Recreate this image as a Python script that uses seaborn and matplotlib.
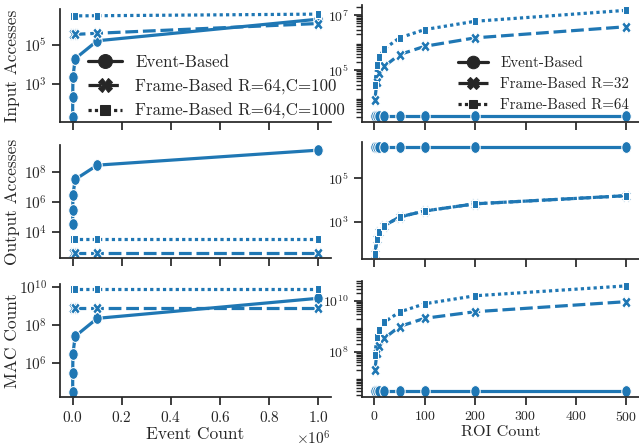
import numpy as np
import pandas as pd
import matplotlib
matplotlib.use("Agg")
import matplotlib.pyplot as plt
from matplotlib.ticker import FixedLocator
from matplotlib.markers import MarkerStyle
from matplotlib.path import Path
from matplotlib.transforms import Affine2D
import seaborn as sns

# ---------------- data ----------------
events = [10, 100, 1000, 10000, 100000, 1000000]
left_labels = ["Event-Based", "Frame-Based R=64,C=100", "Frame-Based R=64,C=1000"]

input_event = [22, 210, 2200, 20000, 165000, 2100000]
input_fb100 = [3.5e5, 3.5e5, 3.5e5, 3.5e5, 4.0e5, 1.26e6]
input_fb1000 = [3.1e6, 3.1e6, 3.1e6, 3.1e6, 3.15e6, 3.8e6]

output_event = [3.1e4, 2.7e5, 2.8e6, 3.1e7, 2.8e8, 2.8e9]
output_fb100 = [380, 380, 380, 380, 380, 380]
output_fb1000 = [3500, 3500, 3500, 3500, 3500, 3500]

mac_event = [2.9e4, 2.9e5, 2.9e6, 2.5e7, 2.2e8, 2.5e9]
mac_fb100 = [8.0e8, 8.0e8, 8.0e8, 8.0e8, 8.0e8, 8.0e8]
mac_fb1000 = [7.8e9, 7.8e9, 7.8e9, 7.8e9, 7.8e9, 7.8e9]

rois = [1, 5, 10, 20, 50, 100, 200, 500]
right_labels = ["Event-Based", "Frame-Based R=32", "Frame-Based R=64"]

input_event_r = [2100, 2100, 2100, 2100, 2100, 2100, 2100, 2100]
input_r32 = [8.5e3, 3.8e4, 7.6e4, 1.4e5, 3.7e5, 7.4e5, 1.5e6, 3.8e6]
input_r64 = [3.0e4, 1.5e5, 3.1e5, 6.0e5, 1.5e6, 3.0e6, 6.0e6, 1.5e7]

output_event_r = [2.7e6, 2.7e6, 2.7e6, 2.7e6, 2.7e6, 2.7e6, 2.7e6, 2.7e6]
output_r32 = [34, 170, 330, 680, 1700, 3200, 6800, 1.6e4]
output_r64 = [34, 170, 330, 680, 1700, 3200, 6800, 1.6e4]

mac_event_r = [2.9e6, 2.9e6, 2.9e6, 2.9e6, 2.9e6, 2.9e6, 2.9e6, 2.9e6]
mac_r32 = [1.9e7, 9.5e7, 1.7e8, 3.5e8, 1.0e9, 2.1e9, 3.8e9, 9.4e9]
mac_r64 = [7.8e7, 3.8e8, 7.5e8, 1.5e9, 3.7e9, 7.8e9, 1.6e10, 3.9e10]

row_labels = ["Input Accesses", "Output Accesses", "MAC Count"]
left_xticks = [0, 200000, 400000, 600000, 800000, 1000000]
right_xticks = [0, 100, 200, 300, 400, 500]
left_yticks = [[1e3, 1e5], [1e4, 1e6, 1e8], [1e6, 1e8, 1e10]]
right_yticks = [[1e5, 1e7], [1e3, 1e5], [1e8, 1e10]]

# ---------------- style ----------------
sns.set_theme(style="ticks")
plt.rcParams["font.family"] = ["cmr10", "DejaVu Serif"]
plt.rcParams["mathtext.fontset"] = "cm"
plt.rcParams["axes.formatter.use_mathtext"] = True
plt.rcParams["axes.unicode_minus"] = False

BLUE = "#1f77b4"
W, H = 639, 447
fig = plt.figure(figsize=(W / 100, H / 100), dpi=100)


def squeezed(marker, sx=0.8):
    ms = MarkerStyle(marker)
    p = ms.get_path().transformed(ms.get_transform())
    p = p.transformed(Affine2D().scale(sx, 1.0))
    # invisible trailing moveto keeps the marker's native scale
    verts = np.vstack([p.vertices, [[0.0, 0.5]]])
    codes = p.codes
    if codes is None:
        codes = np.full(len(p.vertices), Path.LINETO, dtype=np.uint8)
        codes[0] = Path.MOVETO
    codes = np.concatenate([codes, [Path.MOVETO]])
    return Path(verts, codes)


plot_markers = [squeezed("o"), squeezed("X"), squeezed((4, 0, 45))]
legend_markers = ["o", "X", (4, 0, 45)]


def rect(x0, x1, y0, y1):
    return [x0 / W, 1 - y1 / H, (x1 - x0) / W, (y1 - y0) / H]


left_rows = [(9, 121.7), (145, 258.3), (283.7, 397.3)]
right_rows = [(5, 121.7), (141.7, 259.4), (280.6, 396.6)]


def long_df(x, series, labels):
    frames = []
    for vals, lab in zip(series, labels):
        frames.append(pd.DataFrame({"x": x, "y": vals, "method": lab}))
    return pd.concat(frames, ignore_index=True)


left_data = [
    long_df(events, [input_event, input_fb100, input_fb1000], left_labels),
    long_df(events, [output_event, output_fb100, output_fb1000], left_labels),
    long_df(events, [mac_event, mac_fb100, mac_fb1000], left_labels),
]
right_data = [
    long_df(rois, [input_event_r, input_r32, input_r64], right_labels),
    long_df(rois, [output_event_r, output_r32, output_r64], right_labels),
    long_df(rois, [mac_event_r, mac_r32, mac_r64], right_labels),
]

L_LAB, R_LAB = 12.5, 11.7
L_TICK, R_TICK = 11.0, 10.0
L_LEG, R_LEG = 12.2, 10.8

left_axes, right_axes = [], []
for i in range(3):
    axl = fig.add_axes(rect(60.4, 330.7, *left_rows[i]),
                       sharex=left_axes[0] if left_axes else None)
    axr = fig.add_axes(rect(362.3, 639, *right_rows[i]),
                       sharex=right_axes[0] if right_axes else None)
    left_axes.append(axl)
    right_axes.append(axr)

for i in range(3):
    for ax, df, labels, fs, yt in ((left_axes[i], left_data[i], left_labels, L_TICK, left_yticks[i]),
                                   (right_axes[i], right_data[i], right_labels, R_TICK, right_yticks[i])):
        ax.set_yscale("log")
        sns.lineplot(data=df, x="x", y="y", style="method", style_order=labels,
                     markers=plot_markers, dashes=True, color=BLUE, linewidth=2.3,
                     markersize=8.5, ax=ax, legend=(i == 0))
        ax.yaxis.set_major_locator(FixedLocator(yt))
        ax.set_xlabel("")
        ax.set_ylabel("")
        ax.tick_params(labelsize=fs)
        ax.xaxis.get_offset_text().set_fontsize(fs)
        sns.despine(ax=ax)
        if i < 2:
            ax.tick_params(labelbottom=False)
    left_axes[i].set_ylabel(row_labels[i], fontsize=L_LAB)
    left_axes[i].yaxis.set_label_coords(-0.15, 0.5)

left_axes[2].set_xticks(left_xticks)
right_axes[2].set_xticks(right_xticks)
left_axes[2].set_xlabel("Event Count", fontsize=L_LAB, labelpad=1)
right_axes[2].set_xlabel("ROI Count", fontsize=R_LAB, labelpad=1)

sns.move_legend(left_axes[0], "lower left", bbox_to_anchor=(0.102, 0.02),
                title=None, frameon=False, fontsize=L_LEG,
                borderaxespad=0, borderpad=0)
sns.move_legend(right_axes[0], "lower left", bbox_to_anchor=(0.347, 0.08),
                title=None, frameon=False, fontsize=R_LEG,
                borderaxespad=0, borderpad=0)
for ax, msz in ((left_axes[0], 10), (right_axes[0], 9)):
    for h, m in zip(ax.get_legend().legend_handles, legend_markers):
        h.set_color("#262626")
        h.set_marker(m)
        h.set_markersize(msz)
        h.set_markerfacecolor("#262626")
        h.set_markeredgecolor("#262626")

fig.savefig("out.png", dpi=100)
